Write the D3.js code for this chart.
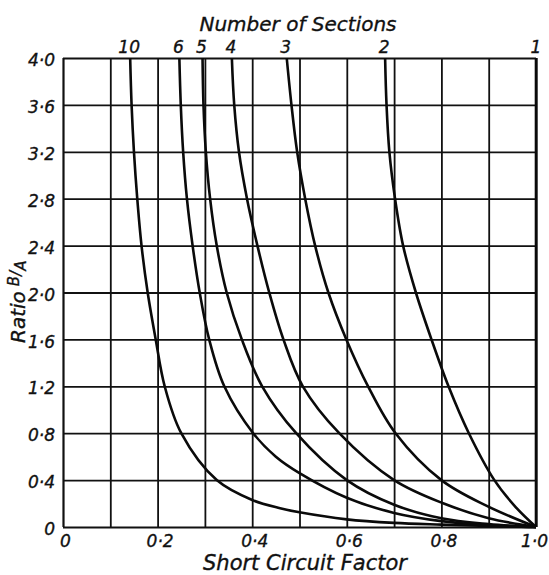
<!DOCTYPE html>
<html>
<head>
<meta charset="utf-8">
<script src="https://cdn.jsdelivr.net/npm/d3@7"></script>
<style>
  html, body { margin: 0; padding: 0; background: #fff; }
  svg { display: block; }
  text { font-family: "DejaVu Sans", sans-serif; font-style: italic; fill: #111; stroke: #111; stroke-width: 0.35px; }
</style>
</head>
<body>
<svg id="chart" width="549" height="575"></svg>
<script>
// ---- data ----
const xTicks = [0, 0.1, 0.2, 0.3, 0.4, 0.5, 0.6, 0.7, 0.8, 0.9, 1.0];
const xLabels = ["0", "", "0·2", "", "0·4", "", "0·6", "", "0·8", "", "1·0"];
const yTicks = [0, 0.4, 0.8, 1.2, 1.6, 2.0, 2.4, 2.8, 3.2, 3.6, 4.0];
const yLabels = ["0", "0·4", "0·8", "1·2", "1·6", "2·0", "2·4", "2·8", "3·2", "3·6", "4·0"];
const sections = ["1", "2", "3", "4", "5", "6", "10"];

// each series: [short circuit factor, ratio B/A]
const curve1 = [[1.0, 4.0], [1.0, 0]];
const curve2 = [[0.681, 4.0], [0.684, 3.6], [0.690, 3.2], [0.702, 2.8], [0.719, 2.4], [0.746, 2.0],
                [0.779, 1.6], [0.815, 1.2], [0.858, 0.8], [0.912, 0.4], [0.957, 0.17], [1.0, 0]];
const curve3 = [[0.473, 4.0], [0.483, 3.6], [0.495, 3.2], [0.512, 2.8], [0.533, 2.4], [0.561, 2.0],
                [0.599, 1.6], [0.645, 1.2], [0.703, 0.8], [0.800, 0.4], [0.896, 0.18], [1.0, 0]];
const curve4 = [[0.357, 4.0], [0.362, 3.6], [0.372, 3.2], [0.389, 2.8], [0.411, 2.4], [0.436, 2.0],
                [0.466, 1.6], [0.507, 1.2], [0.584, 0.8], [0.700, 0.4], [0.805, 0.2], [0.900, 0.075], [1.0, 0]];
const curve5 = [[0.295, 4.0], [0.297, 3.6], [0.302, 3.2], [0.311, 2.8], [0.325, 2.4], [0.346, 2.0],
                [0.378, 1.6], [0.421, 1.2], [0.493, 0.8], [0.600, 0.4], [0.700, 0.19], [0.800, 0.074],
                [0.900, 0.025], [1.0, 0]];
const curve6 = [[0.246, 4.0], [0.249, 3.6], [0.254, 3.2], [0.262, 2.8], [0.274, 2.4], [0.289, 2.0],
                [0.309, 1.6], [0.341, 1.2], [0.402, 0.8], [0.450, 0.6], [0.500, 0.46], [0.600, 0.25],
                [0.700, 0.12], [0.800, 0.05], [0.900, 0.015], [1.0, 0]];
const curve10 = [[0.142, 4.0], [0.145, 3.6], [0.150, 3.2], [0.157, 2.8], [0.166, 2.4], [0.179, 2.0],
                 [0.196, 1.6], [0.215, 1.2], [0.250, 0.8], [0.325, 0.4], [0.400, 0.23], [0.459, 0.16],
                 [0.500, 0.125], [0.600, 0.065], [0.700, 0.035], [0.800, 0.02], [0.900, 0.008], [1.0, 0]];
const curves = [curve1, curve2, curve3, curve4, curve5, curve6, curve10];

// ---- layout ----
const svg = d3.select("#chart");
const pLeft = 63, pRight = 536, pTop = 58, pBottom = 527;
const x = d3.scaleLinear().domain([0, 1]).range([pLeft, pRight]);
const y = d3.scaleLinear().domain([0, 4]).range([pBottom, pTop]);

// vertical grid + bottom labels
const gx = svg.append("g")
  .attr("transform", `translate(0,${pBottom})`)
  .call(d3.axisBottom(x).tickValues(xTicks).tickSize(-(pBottom - pTop)).tickPadding(8)
        .tickFormat((d, i) => xLabels[i]));
gx.select(".domain").remove();
gx.selectAll(".tick line").attr("stroke", "#111")
  .attr("stroke-width", (d) => (d === 0 || d === 1) ? 2.2 : 1.8);
gx.selectAll(".tick text").attr("font-size", 17).attr("fill", "#111")
  .attr("dx", (d) => d === 1 ? -2 : 2);

// horizontal grid + left labels
const gy = svg.append("g")
  .attr("transform", `translate(${pLeft},0)`)
  .call(d3.axisLeft(y).tickValues(yTicks).tickSize(-(pRight - pLeft)).tickPadding(8)
        .tickFormat((d, i) => yLabels[i]));
gy.select(".domain").remove();
gy.selectAll(".tick line").attr("stroke", "#111")
  .attr("stroke-width", (d) => (d === 0 || d === 4) ? 2.2 : 1.8);
gy.selectAll(".tick text").attr("font-size", 17).attr("fill", "#111").attr("dy", "0.45em");

// curves
const line = d3.line()
  .x(d => x(d[0]))
  .y(d => y(d[1]))
  .curve(d3.curveCatmullRom.alpha(0.5));
svg.append("g").selectAll("path")
  .data(curves)
  .join("path")
  .attr("d", line)
  .attr("fill", "none")
  .attr("stroke", "#0a0a0a")
  .attr("stroke-width", 2.6)
  .attr("stroke-linejoin", "round");

// section labels at top of each curve
svg.append("g").selectAll("text")
  .data(curves)
  .join("text")
  .attr("x", (d, i) => x(d[0][0]) + (i === 0 ? 0 : -1))
  .attr("y", 53)
  .attr("text-anchor", "middle")
  .attr("font-size", 17)
  .text((d, i) => sections[i]);

// titles
svg.append("text")
  .attr("x", 298).attr("y", 31)
  .attr("text-anchor", "middle")
  .attr("font-size", 20)
  .text("Number of Sections");

svg.append("text")
  .attr("x", 305).attr("y", 570)
  .attr("text-anchor", "middle")
  .attr("font-size", 21)
  .text("Short Circuit Factor");

const yt = svg.append("text")
  .attr("transform", "translate(25,343) rotate(-90)")
  .attr("font-size", 20);
yt.append("tspan").text("Ratio");
yt.append("tspan").attr("dx", 5).attr("dy", -6).attr("font-size", 15).text("B");
yt.append("tspan").attr("dy", 2).attr("font-size", 15).text("/");
yt.append("tspan").attr("dy", 5).attr("font-size", 15).text("A");
</script>
</body>
</html>
